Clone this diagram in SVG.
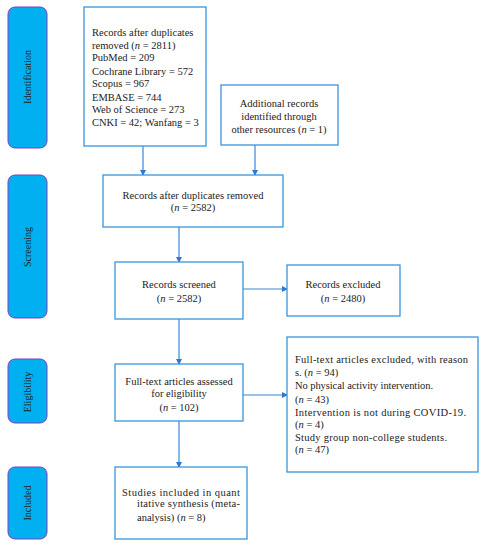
<svg xmlns="http://www.w3.org/2000/svg" width="484" height="550" viewBox="0 0 484 550">
<style>
.box{fill:#fff;stroke:#3a95dc;stroke-width:1.3}
.side{fill:#00b0f0;stroke:#7f3fbf;stroke-width:1}
.t{font-family:"Liberation Serif",serif;font-size:10.5px;fill:#222}
.c{text-anchor:middle}
.s{font-family:"Liberation Serif",serif;font-size:10px;fill:#222;text-anchor:middle}
.ln{stroke:#3a86d6;stroke-width:1.2;fill:none;marker-end:url(#ah)}
</style>
<defs>
<marker id="ah" markerWidth="6" markerHeight="6" refX="5" refY="3" orient="auto" markerUnits="userSpaceOnUse">
<path d="M0,0 L6,3 L0,6 Z" fill="#2f78cc"/>
</marker>
</defs>
<rect width="484" height="550" fill="#fff"/>
<g id="side-identification"><rect class="side" x="8" y="7" width="39" height="141" rx="7"/><text class="s" transform="translate(31,77) rotate(-90)">Identification</text></g>
<g id="side-screening"><rect class="side" x="8" y="175" width="39" height="143" rx="7"/><text class="s" transform="translate(31,247) rotate(-90)">Screening</text></g>
<g id="side-eligibility"><rect class="side" x="8" y="359" width="39" height="64" rx="7"/><text class="s" transform="translate(31,392) rotate(-90)">Eligibility</text></g>
<g id="side-included"><rect class="side" x="8" y="467" width="39" height="72" rx="7"/><text class="s" transform="translate(31,503) rotate(-90)">Included</text></g>

<g id="connectors">
<line class="ln" x1="143" y1="146" x2="143" y2="175"/>
<line class="ln" x1="255" y1="145" x2="255" y2="175"/>
<line class="ln" x1="179" y1="227" x2="179" y2="262"/>
<line class="ln" x1="243" y1="289" x2="287" y2="289"/>
<line class="ln" x1="179" y1="319" x2="179" y2="364"/>
<line class="ln" x1="243" y1="395" x2="287" y2="395"/>
<line class="ln" x1="179" y1="421" x2="179" y2="467"/>
</g>

<g id="records-db">
<rect class="box" x="84" y="7" width="122" height="139"/>
<text class="t" x="92" y="36">Records after duplicates</text>
<text class="t" x="92" y="49">removed (<tspan font-style="italic">n</tspan> = 2811)</text>
<text class="t" x="92" y="61">PubMed = 209</text>
<text class="t" x="92" y="75">Cochrane Library = 572</text>
<text class="t" x="92" y="87">Scopus = 967</text>
<text class="t" x="92" y="101">EMBASE = 744</text>
<text class="t" x="92" y="113">Web of Science = 273</text>
<text class="t" x="92" y="126">CNKI = 42; Wanfang = 3</text>
</g>
<g id="additional">
<rect class="box" x="221" y="85" width="117" height="60"/>
<text class="t c" x="279" y="107">Additional records</text>
<text class="t c" x="279" y="120">identified through</text>
<text class="t c" x="279" y="133">other resources (<tspan font-style="italic">n</tspan> = 1)</text>
</g>
<g id="dup-removed">
<rect class="box" x="103" y="175" width="180" height="52"/>
<text class="t c" x="193" y="199">Records after duplicates removed</text>
<text class="t c" x="193" y="211">(<tspan font-style="italic">n</tspan> = 2582)</text>
</g>
<g id="screened">
<rect class="box" x="115" y="262" width="128" height="57"/>
<text class="t c" x="179" y="288">Records screened</text>
<text class="t c" x="179" y="302">(<tspan font-style="italic">n</tspan> = 2582)</text>
</g>
<g id="excluded">
<rect class="box" x="287" y="265" width="113" height="51"/>
<text class="t c" x="343" y="288">Records excluded</text>
<text class="t c" x="343" y="302">(<tspan font-style="italic">n</tspan> = 2480)</text>
</g>
<g id="fulltext">
<rect class="box" x="115" y="364" width="128" height="57"/>
<text class="t c" x="179" y="385">Full-text articles assessed</text>
<text class="t c" x="179" y="397">for eligibility</text>
<text class="t c" x="179" y="411">(<tspan font-style="italic">n</tspan> = 102)</text>
</g>
<g id="ft-excluded">
<rect class="box" x="287" y="337" width="191" height="135"/>
<text class="t" x="295" y="363" textLength="173" lengthAdjust="spacing">Full-text articles excluded, with reason</text>
<text class="t" x="295" y="376">s. (<tspan font-style="italic">n</tspan> = 94)</text>
<text class="t" x="295" y="389" textLength="138" lengthAdjust="spacing">No physical activity intervention.</text>
<text class="t" x="295" y="403">(<tspan font-style="italic">n</tspan> = 43)</text>
<text class="t" x="295" y="416" textLength="171" lengthAdjust="spacing">Intervention is not during COVID-19.</text>
<text class="t" x="295" y="428">(<tspan font-style="italic">n</tspan> = 4)</text>
<text class="t" x="295" y="441" textLength="152" lengthAdjust="spacing">Study group non-college students.</text>
<text class="t" x="295" y="453">(<tspan font-style="italic">n</tspan> = 47)</text>
</g>
<g id="included">
<rect class="box" x="115" y="467" width="132" height="72"/>
<text class="t" x="122" y="496" textLength="118" lengthAdjust="spacing">Studies included in quant</text>
<text class="t" x="137" y="507" textLength="103" lengthAdjust="spacing">itative synthesis (meta-</text>
<text class="t" x="137" y="521">analysis) (<tspan font-style="italic">n</tspan> = 8)</text>
</g>
</svg>
